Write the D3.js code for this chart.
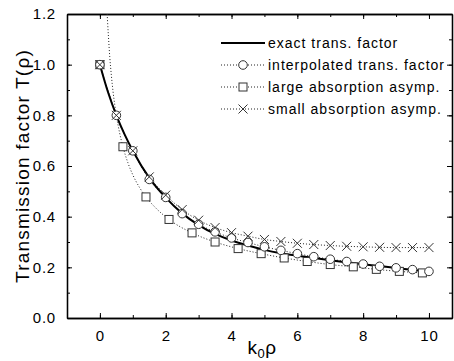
<!DOCTYPE html>
<html><head><meta charset="utf-8">
<script src="https://cdn.jsdelivr.net/npm/d3@7"></script>
<style>body{margin:0;background:#fff}svg{display:block}text{font-family:Arial,"Liberation Sans",sans-serif}</style>
</head><body>
<script>
// data
const exactX = [0,0.25,0.5,0.75,1,1.5,2,2.5,3,3.5,4,4.5,5,5.5,6,6.5,7,7.5,8,8.5,9,9.5,10];
const exactY = [1.0,0.89,0.80,0.725,0.66,0.553,0.475,0.413,0.367,0.332,0.306,0.286,0.269,0.256,0.246,0.237,0.228,0.220,0.212,0.205,0.197,0.190,0.182];
const interpX = [0,0.5,1,1.5,2,2.5,3,3.5,4,4.5,5,5.5,6,6.5,7,7.5,8,8.5,9,9.5,10];
const interpY = [1.0,0.80,0.66,0.547,0.476,0.412,0.370,0.340,0.316,0.298,0.281,0.267,0.254,0.242,0.232,0.223,0.213,0.204,0.198,0.191,0.184];
const largeX = [0,0.7,1.4,2.1,2.8,3.5,4.2,4.9,5.6,6.3,7.0,7.7,8.4,9.1,9.8];
const largeY = [1.0,0.676,0.478,0.389,0.336,0.300,0.274,0.254,0.237,0.223,0.211,0.202,0.192,0.184,0.178];
const largeLineX = [0.22,0.26,0.3,0.35,0.4,0.5,0.6,0.7,0.85,1.0,1.2,1.4,1.7,2.1,2.8,3.5,4.2,4.9,5.6,6.3,7.0,7.7,8.4,9.1,9.8];
const largeLineY = [1.2,1.11,1.03,0.955,0.893,0.80,0.73,0.676,0.613,0.565,0.516,0.478,0.434,0.389,0.336,0.300,0.274,0.254,0.237,0.223,0.211,0.202,0.192,0.184,0.178];
const smallX = [0,0.5,1,1.5,2,2.5,3,3.5,4,4.5,5,5.5,6,6.5,7,7.5,8,8.5,9,9.5,10];
const smallY = [1.0,0.80,0.66,0.557,0.485,0.428,0.386,0.357,0.337,0.323,0.310,0.302,0.295,0.290,0.286,0.283,0.281,0.279,0.278,0.278,0.278];
const xTicks = [0,2,4,6,8,10];
const yTicks = [0.0,0.2,0.4,0.6,0.8,1.0,1.2];
const legendLabels = ["exact trans. factor","interpolated trans. factor","large absorption asymp.","small absorption asymp."];

const W=454,H=361;
const L=67,T=14,R=452,B=318;
const svg=d3.select("body").append("svg").attr("width",W).attr("height",H);
const x=d3.scaleLinear().domain([-1,10.7]).range([L,R]);
const y=d3.scaleLinear().domain([0,1.2]).range([B,T]);

svg.append("defs").append("clipPath").attr("id","clip").append("rect")
  .attr("x",L).attr("y",T).attr("width",R-L).attr("height",B-T);

const minorX=d3.range(-1,11,1), minorY=d3.range(0,1.21,0.1);
function axis(gen, tr, ticks, size, fmt){
  const g=svg.append("g").attr("transform",tr).call(gen.tickValues(ticks).tickSize(size).tickSizeOuter(0).tickFormat(fmt));
  g.select(".domain").attr("stroke","#000").attr("stroke-width",1.3);
  g.selectAll(".tick line").attr("stroke","#000").attr("stroke-width",1);
  g.selectAll("text").attr("font-size",15).attr("fill","#000").attr("letter-spacing",0.8);
  return g;
}
const nf=()=>"";
// bottom
axis(d3.axisBottom(x),`translate(0,${B})`,minorX,-3,nf);
const gb=axis(d3.axisBottom(x),`translate(0,${B})`,xTicks,-5,d3.format("d"));
gb.selectAll("text").attr("dy","1.3em");
// top
axis(d3.axisTop(x),`translate(0,${T})`,minorX,-3,nf);
axis(d3.axisTop(x),`translate(0,${T})`,xTicks,-5,nf);
// left
axis(d3.axisLeft(y),`translate(${L},0)`,minorY,-3,nf);
const gl=axis(d3.axisLeft(y),`translate(${L},0)`,yTicks,-5,d3.format(".1f"));
gl.selectAll("text").attr("x",-11);
// right
axis(d3.axisRight(y),`translate(${R},0)`,minorY,-3,nf);
axis(d3.axisRight(y),`translate(${R},0)`,yTicks,-5,nf);

// titles
svg.append("text").attr("transform",`translate(29,${(T+B)/2}) rotate(-90)`).attr("text-anchor","middle")
  .attr("font-size",19).attr("letter-spacing",1.2).text("Transmission factor T(ρ)");
const xt=svg.append("text").attr("x",262).attr("y",354).attr("text-anchor","middle").attr("font-size",19).attr("letter-spacing",0.5);
xt.append("tspan").text("k");
xt.append("tspan").attr("font-size",13).attr("dy",4).text("0");
xt.append("tspan").attr("dy",-4).text("ρ");

const plot=svg.append("g").attr("clip-path","url(#clip)");
const line=d3.line().x(d=>x(d[0])).y(d=>y(d[1])).curve(d3.curveMonotoneX);
const zip=(a,b)=>a.map((v,i)=>[v,b[i]]);
const mark="#333";

plot.append("path").datum(zip(largeLineX,largeLineY)).attr("d",line).attr("fill","none")
  .attr("stroke","#222").attr("stroke-width",1).attr("stroke-dasharray","1,2");
plot.append("path").datum(zip(smallX,smallY)).attr("d",line).attr("fill","none")
  .attr("stroke","#222").attr("stroke-width",1).attr("stroke-dasharray","1,2");
plot.append("path").datum(zip(interpX,interpY)).attr("d",line).attr("fill","none")
  .attr("stroke","#222").attr("stroke-width",1).attr("stroke-dasharray","1,2");
plot.append("path").datum(zip(exactX,exactY)).attr("d",line).attr("fill","none")
  .attr("stroke","#000").attr("stroke-width",2);

function circle(g,cx,cy){g.append("circle").attr("cx",cx).attr("cy",cy).attr("r",4.3).attr("fill","#fff").attr("stroke",mark).attr("stroke-width",1);}
function square(g,cx,cy){g.append("rect").attr("x",cx-4).attr("y",cy-4).attr("width",8).attr("height",8).attr("fill","#fff").attr("stroke",mark).attr("stroke-width",1);}
function cross(g,cx,cy){g.append("path").attr("d",`M${cx-4.5},${cy-4.5}L${cx+4.5},${cy+4.5}M${cx-4.5},${cy+4.5}L${cx+4.5},${cy-4.5}`).attr("stroke",mark).attr("stroke-width",1).attr("fill","none");}

zip(largeX,largeY).forEach(d=>square(plot,x(d[0]),y(d[1])));
zip(interpX,interpY).forEach(d=>circle(plot,x(d[0]),y(d[1])));
zip(smallX,smallY).forEach(d=>cross(plot,x(d[0]),y(d[1])));

// legend
const lg=svg.append("g");
const ly=[43,65,87,109];
legendLabels.forEach((t,i)=>{
  const yy=ly[i];
  if(i===0){
    lg.append("line").attr("x1",221).attr("x2",265).attr("y1",yy).attr("y2",yy).attr("stroke","#000").attr("stroke-width",2);
  } else {
    lg.append("line").attr("x1",221).attr("x2",265).attr("y1",yy).attr("y2",yy).attr("stroke","#222").attr("stroke-width",1).attr("stroke-dasharray","1,2");
    [circle,square,cross][i-1](lg,243,yy);
  }
  lg.append("text").attr("x",268).attr("y",yy).attr("dy","0.35em").attr("font-size",14).attr("letter-spacing",1).text(t);
});
</script>
</body></html>
